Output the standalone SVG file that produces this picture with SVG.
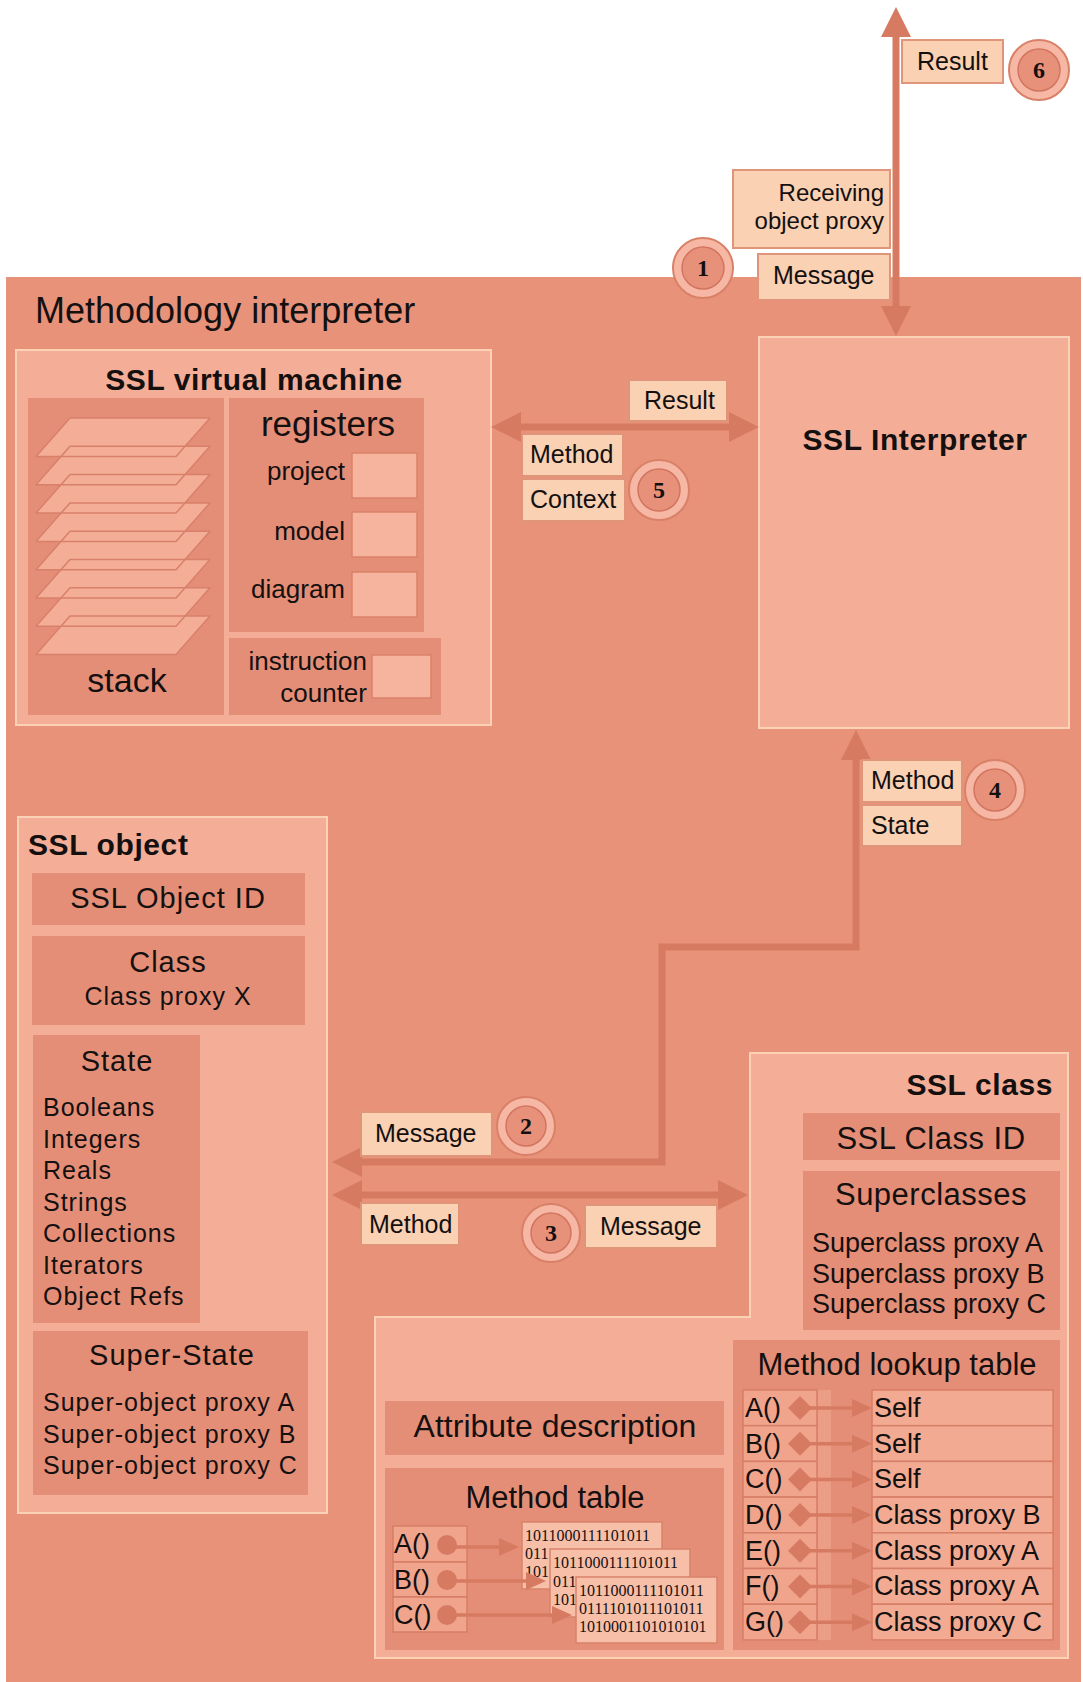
<svg xmlns="http://www.w3.org/2000/svg" width="1083" height="1682" viewBox="0 0 1083 1682">
  <defs>
    <style>
      .bg { fill: #E9927A; }
      .panel { fill: #F4AD96; stroke: #FBD2B5; stroke-width: 2; }
      .sub { fill: #E58E77; }
      .reg { fill: #F6B39D; stroke: #D9826A; stroke-width: 1.5; }
      .plane-fill { fill: #F4AE98; stroke: none; }
      .plane-line { fill: none; stroke: #D8806A; stroke-width: 1.5; stroke-linejoin: round; }
      .lbl { fill: #FAD1B3; stroke: #E0957B; stroke-width: 2; }
      .wire { fill: none; stroke: #D77A62; stroke-width: 7; stroke-linejoin: miter; }
      .thin { fill: none; stroke: #D77A62; stroke-width: 3.5; }
      .dot { fill: #D77A62; }
      .ring { fill: #F6B8A4; stroke: #D98068; stroke-width: 2; }
      .ringin { fill: #E8917A; stroke: #D27560; stroke-width: 1.5; }
      .cell { fill: #F0A48C; stroke: #D77E66; stroke-width: 1.5; }
      .rcell { fill: #F2AA93; stroke: #D77E66; stroke-width: 1.5; }
      .code { fill: #F7BFA8; stroke: #D9826B; stroke-width: 1.5; }
      text { font-family: "Liberation Sans", Arial, sans-serif; fill: #141010; }
      .t25 { font-size: 25px; }
      .t26 { font-size: 26px; }
      .t27 { font-size: 27px; }
      .bold { font-weight: bold; font-size: 30px; letter-spacing: 0.6px; }
      .obj { letter-spacing: 1px; }
      .num { font-family: "Liberation Serif", "Times New Roman", serif; font-weight: bold; font-size: 24px; }
      .bits { font-family: "Liberation Serif", "Times New Roman", serif; font-size: 16px; }
      .mid { text-anchor: middle; }
      .end { text-anchor: end; }
    </style>
    <marker id="head" viewBox="0 0 30 30" markerUnits="userSpaceOnUse" markerWidth="30" markerHeight="30" refX="1" refY="15" orient="auto-start-reverse">
      <path d="M0,0 L30,15 L0,30 Z" fill="#D77A62"/>
    </marker>
    <marker id="tip" viewBox="0 0 20 18" markerUnits="userSpaceOnUse" markerWidth="20" markerHeight="18" refX="1" refY="9" orient="auto">
      <path d="M0,0 L20,9 L0,18 Z" fill="#D77A62"/>
    </marker>
    <!-- one stack frame, reused for every level -->
    <polygon id="frame" points="70,418 210,418 176,456.5 36,456.5"/>
  </defs>

  <rect x="0" y="0" width="1083" height="1682" fill="#FFFFFF"/>

  <!-- interpreter backdrop -->
  <g id="methodology-interpreter">
    <rect class="bg" x="6" y="277" width="1075" height="1405"/>
    <text x="35" y="323" style="font-size:36px">Methodology interpreter</text>
  </g>

  <!-- virtual machine -->
  <g id="ssl-virtual-machine">
    <rect class="panel" x="16" y="350" width="475" height="375"/>
    <text class="bold mid" x="254" y="390">SSL virtual machine</text>
    <g id="stack">
      <rect class="sub" x="28" y="398" width="196" height="317"/>
      <g class="plane-fill">
        <use href="#frame"/>
        <use href="#frame" y="28.3"/>
        <use href="#frame" y="56.6"/>
        <use href="#frame" y="84.9"/>
        <use href="#frame" y="113.2"/>
        <use href="#frame" y="141.5"/>
        <use href="#frame" y="169.8"/>
        <use href="#frame" y="198.1"/>
      </g>
      <g class="plane-line">
        <use href="#frame"/>
        <use href="#frame" y="28.3"/>
        <use href="#frame" y="56.6"/>
        <use href="#frame" y="84.9"/>
        <use href="#frame" y="113.2"/>
        <use href="#frame" y="141.5"/>
        <use href="#frame" y="169.8"/>
        <use href="#frame" y="198.1"/>
      </g>
      <text class="mid" x="127" y="692" style="font-size:34px">stack</text>
    </g>
    <g id="registers">
      <rect class="sub" x="229" y="398" width="195" height="234"/>
      <text class="mid" x="328" y="436" style="font-size:35px">registers</text>
      <text class="t26 end" x="345" y="480">project</text>
      <rect class="reg" x="352" y="453" width="65" height="45"/>
      <text class="t26 end" x="345" y="540">model</text>
      <rect class="reg" x="352" y="512" width="65" height="45"/>
      <text class="t26 end" x="345" y="598">diagram</text>
      <rect class="reg" x="352" y="572" width="65" height="45"/>
    </g>
    <g id="instruction-counter">
      <rect class="sub" x="229" y="638" width="212" height="77"/>
      <text class="t26 end" x="367" y="670">instruction</text>
      <text class="t26 end" x="367" y="702">counter</text>
      <rect class="reg" x="372" y="655" width="59" height="43"/>
    </g>
  </g>

  <!-- interpreter core -->
  <g id="ssl-interpreter">
    <rect class="panel" x="759" y="337" width="310" height="391"/>
    <text class="bold mid" x="915" y="450">SSL Interpreter</text>
  </g>

  <!-- object record -->
  <g id="ssl-object">
    <rect class="panel" x="18" y="817" width="309" height="696"/>
    <text class="bold" x="28" y="855">SSL object</text>
    <rect class="sub" x="32" y="873" width="273" height="52"/>
    <text class="obj mid" x="168" y="908" style="font-size:29px">SSL Object ID</text>
    <rect class="sub" x="32" y="936" width="273" height="89"/>
    <text class="obj mid" x="168" y="972" style="font-size:29px">Class</text>
    <text class="obj t25 mid" x="168" y="1005">Class proxy X</text>
    <rect class="sub" x="33" y="1035" width="167" height="288"/>
    <text class="obj mid" x="117" y="1071" style="font-size:29px">State</text>
    <g class="obj t25">
      <text x="43" y="1116">Booleans</text>
      <text x="43" y="1148">Integers</text>
      <text x="43" y="1179">Reals</text>
      <text x="43" y="1211">Strings</text>
      <text x="43" y="1242">Collections</text>
      <text x="43" y="1274">Iterators</text>
      <text x="43" y="1305">Object Refs</text>
    </g>
    <rect class="sub" x="33" y="1331" width="275" height="164"/>
    <text class="obj mid" x="172" y="1365" style="font-size:29px">Super-State</text>
    <g class="obj t25">
      <text x="43" y="1411">Super-object proxy A</text>
      <text x="43" y="1443">Super-object proxy B</text>
      <text x="43" y="1474">Super-object proxy C</text>
    </g>
  </g>

  <!-- class record -->
  <g id="ssl-class">
    <polygon class="panel" points="750,1053 1068,1053 1068,1658 375,1658 375,1317 750,1317"/>
    <text class="bold end" x="1053" y="1095">SSL class</text>
    <rect class="sub" x="803" y="1113" width="257" height="47"/>
    <text class="mid" x="931" y="1149" style="font-size:31px;letter-spacing:0.5px">SSL Class ID</text>
    <rect class="sub" x="803" y="1171" width="257" height="159"/>
    <text class="mid" x="931" y="1205" style="font-size:31px;letter-spacing:0.5px">Superclasses</text>
    <g class="t27">
      <text x="812" y="1252">Superclass proxy A</text>
      <text x="812" y="1283">Superclass proxy B</text>
      <text x="812" y="1313">Superclass proxy C</text>
    </g>

    <g id="attribute-description">
      <rect class="sub" x="385" y="1401" width="339" height="54"/>
      <text class="mid" x="555" y="1437" style="font-size:32px">Attribute description</text>
    </g>

    <g id="method-table">
      <rect class="sub" x="385" y="1468" width="339" height="182"/>
      <text class="mid" x="555" y="1508" style="font-size:31px">Method table</text>
      <rect class="cell" x="393" y="1526" width="74" height="36"/>
      <rect class="cell" x="393" y="1562" width="74" height="35"/>
      <rect class="cell" x="393" y="1597" width="74" height="35"/>
      <text class="t27" x="394" y="1553">A()</text>
      <text class="t27" x="394" y="1589">B()</text>
      <text class="t27" x="394" y="1624">C()</text>
      <rect class="code" x="522" y="1522" width="140" height="67"/>
      <text class="bits" x="525" y="1541">1011000111101011</text>
      <text class="bits" x="525" y="1559">011</text>
      <text class="bits" x="525" y="1577">101</text>
      <rect class="code" x="550" y="1549" width="140" height="68"/>
      <text class="bits" x="553" y="1568">1011000111101011</text>
      <text class="bits" x="553" y="1587">011</text>
      <text class="bits" x="553" y="1605">101</text>
      <rect class="code" x="576" y="1577" width="141" height="66"/>
      <text class="bits" x="579" y="1596">1011000111101011</text>
      <text class="bits" x="579" y="1614">0111101011101011</text>
      <text class="bits" x="579" y="1632">1010001101010101</text>
      <circle class="dot" cx="447" cy="1545" r="10"/>
      <circle class="dot" cx="447" cy="1580" r="10"/>
      <circle class="dot" cx="447" cy="1615" r="10"/>
      <line class="thin" x1="450" y1="1547" x2="500" y2="1547" marker-end="url(#tip)"/>
      <line class="thin" x1="450" y1="1581" x2="527" y2="1581" marker-end="url(#tip)"/>
      <line class="thin" x1="450" y1="1615" x2="553" y2="1615" marker-end="url(#tip)"/>
    </g>

    <g id="method-lookup-table">
      <rect class="sub" x="733" y="1340" width="327" height="310"/>
      <rect x="818" y="1390" width="13" height="250" fill="#EC9D85"/>
      <text class="mid" x="897" y="1375" style="font-size:31px">Method lookup table</text>
      <g class="cell">
        <rect x="743" y="1390" width="74" height="35.7"/>
        <rect x="743" y="1425.7" width="74" height="35.7"/>
        <rect x="743" y="1461.4" width="74" height="35.7"/>
        <rect x="743" y="1497.1" width="74" height="35.7"/>
        <rect x="743" y="1532.8" width="74" height="35.7"/>
        <rect x="743" y="1568.5" width="74" height="35.7"/>
        <rect x="743" y="1604.2" width="74" height="35.7"/>
      </g>
      <g class="rcell">
        <rect x="872" y="1390" width="181" height="35.7"/>
        <rect x="872" y="1425.7" width="181" height="35.7"/>
        <rect x="872" y="1461.4" width="181" height="35.7"/>
        <rect x="872" y="1497.1" width="181" height="35.7"/>
        <rect x="872" y="1532.8" width="181" height="35.7"/>
        <rect x="872" y="1568.5" width="181" height="35.7"/>
        <rect x="872" y="1604.2" width="181" height="35.7"/>
      </g>
      <g class="t27">
        <text x="745" y="1417">A()</text>
        <text x="745" y="1453">B()</text>
        <text x="745" y="1488">C()</text>
        <text x="745" y="1524">D()</text>
        <text x="745" y="1560">E()</text>
        <text x="745" y="1595">F()</text>
        <text x="745" y="1631">G()</text>
        <text x="874" y="1417">Self</text>
        <text x="874" y="1453">Self</text>
        <text x="874" y="1488">Self</text>
        <text x="874" y="1524">Class proxy B</text>
        <text x="874" y="1560">Class proxy A</text>
        <text x="874" y="1595">Class proxy A</text>
        <text x="874" y="1631">Class proxy C</text>
      </g>
      <g class="dot">
        <polygon points="788,1408 800,1396 812,1408 800,1420"/>
        <polygon points="788,1443.7 800,1431.7 812,1443.7 800,1455.7"/>
        <polygon points="788,1479.4 800,1467.4 812,1479.4 800,1491.4"/>
        <polygon points="788,1515.1 800,1503.1 812,1515.1 800,1527.1"/>
        <polygon points="788,1550.8 800,1538.8 812,1550.8 800,1562.8"/>
        <polygon points="788,1586.5 800,1574.5 812,1586.5 800,1598.5"/>
        <polygon points="788,1622.2 800,1610.2 812,1622.2 800,1634.2"/>
      </g>
      <g class="thin">
        <line x1="810" y1="1408" x2="853" y2="1408" marker-end="url(#tip)"/>
        <line x1="810" y1="1443.7" x2="853" y2="1443.7" marker-end="url(#tip)"/>
        <line x1="810" y1="1479.4" x2="853" y2="1479.4" marker-end="url(#tip)"/>
        <line x1="810" y1="1515.1" x2="853" y2="1515.1" marker-end="url(#tip)"/>
        <line x1="810" y1="1550.8" x2="853" y2="1550.8" marker-end="url(#tip)"/>
        <line x1="810" y1="1586.5" x2="853" y2="1586.5" marker-end="url(#tip)"/>
        <line x1="810" y1="1622.2" x2="853" y2="1622.2" marker-end="url(#tip)"/>
      </g>
    </g>
  </g>

  <!-- message flow -->
  <g id="connectors">
    <line class="wire" x1="896" y1="36" x2="896" y2="307" marker-start="url(#head)" marker-end="url(#head)"/>
    <line class="wire" x1="520" y1="427" x2="730" y2="427" marker-start="url(#head)" marker-end="url(#head)"/>
    <polyline class="wire" points="856,759 856,947 662,947 662,1162 361,1162" marker-start="url(#head)" marker-end="url(#head)"/>
    <line class="wire" x1="361" y1="1195" x2="719" y2="1195" marker-start="url(#head)" marker-end="url(#head)"/>
  </g>

  <!-- flow labels -->
  <g id="label-result-out">
    <rect class="lbl" x="902" y="40" width="101" height="43"/>
    <text class="t25" x="917" y="70">Result</text>
  </g>
  <g id="label-receiver">
    <rect class="lbl" x="733" y="170" width="157" height="78"/>
    <text class="end" x="884" y="201" style="font-size:24px">Receiving</text>
    <text class="end" x="884" y="229" style="font-size:24px">object proxy</text>
  </g>
  <g id="label-message-in">
    <rect class="lbl" x="758" y="254" width="132" height="46"/>
    <text class="t25" x="773" y="284">Message</text>
  </g>
  <g id="label-result-vm">
    <rect class="lbl" x="629" y="380" width="98" height="41"/>
    <text class="t25" x="644" y="409">Result</text>
  </g>
  <g id="label-method-vm">
    <rect class="lbl" x="522" y="434" width="101" height="42"/>
    <text class="t25" x="530" y="463">Method</text>
  </g>
  <g id="label-context-vm">
    <rect class="lbl" x="522" y="479" width="103" height="42"/>
    <text class="t25" x="530" y="508">Context</text>
  </g>
  <g id="label-method-back">
    <rect class="lbl" x="862" y="760" width="100" height="42"/>
    <text class="t25" x="871" y="789">Method</text>
  </g>
  <g id="label-state-back">
    <rect class="lbl" x="862" y="805" width="100" height="41"/>
    <text class="t25" x="871" y="834">State</text>
  </g>
  <g id="label-message-obj">
    <rect class="lbl" x="361" y="1112" width="131" height="44"/>
    <text class="t25" x="375" y="1142">Message</text>
  </g>
  <g id="label-method-obj">
    <rect class="lbl" x="361" y="1203" width="98" height="42"/>
    <text class="t25" x="369" y="1233">Method</text>
  </g>
  <g id="label-message-class">
    <rect class="lbl" x="585" y="1205" width="132" height="43"/>
    <text class="t25" x="600" y="1235">Message</text>
  </g>

  <!-- step numbers -->
  <g id="step-1">
    <circle class="ring" cx="703" cy="268" r="30"/>
    <circle class="ringin" cx="703" cy="268" r="21"/>
    <text class="num mid" x="703" y="276">1</text>
  </g>
  <g id="step-2">
    <circle class="ring" cx="526" cy="1126" r="29"/>
    <circle class="ringin" cx="526" cy="1126" r="20"/>
    <text class="num mid" x="526" y="1134">2</text>
  </g>
  <g id="step-3">
    <circle class="ring" cx="551" cy="1233" r="29"/>
    <circle class="ringin" cx="551" cy="1233" r="20"/>
    <text class="num mid" x="551" y="1241">3</text>
  </g>
  <g id="step-4">
    <circle class="ring" cx="995" cy="790" r="30"/>
    <circle class="ringin" cx="995" cy="790" r="21"/>
    <text class="num mid" x="995" y="798">4</text>
  </g>
  <g id="step-5">
    <circle class="ring" cx="659" cy="490" r="30"/>
    <circle class="ringin" cx="659" cy="490" r="21"/>
    <text class="num mid" x="659" y="498">5</text>
  </g>
  <g id="step-6">
    <circle class="ring" cx="1039" cy="70" r="30"/>
    <circle class="ringin" cx="1039" cy="70" r="21"/>
    <text class="num mid" x="1039" y="78">6</text>
  </g>
</svg>
